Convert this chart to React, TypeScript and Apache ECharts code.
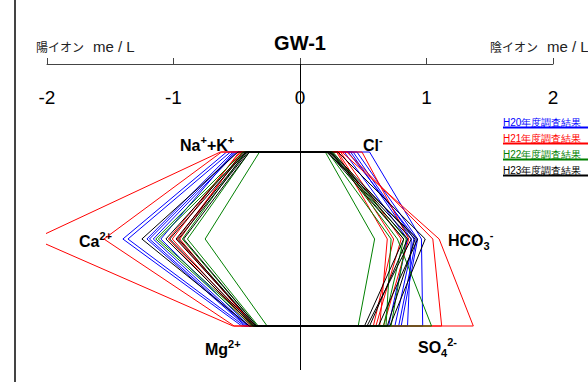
import React, { useEffect, useRef } from "react";
import * as echarts from "echarts";

// Legend / years
const years = ["H20年度調査結果", "H21年度調査結果", "H22年度調査結果", "H23年度調査結果"];
const yearColors = ["#0000ff", "#ff0000", "#008000", "#000000"];

// Axis ticks
const xTicks = [-2, -1, 0, 1, 2];

// Each row: [Na+K, Ca, Mg, Cl, HCO3, SO4]  (me/L)
const h20 = [
  [0.58, 1.4, 0.46, 0.55, 0.96, 0.97],
  [0.55, 1.36, 0.44, 0.45, 0.93, 0.8],
  [0.53, 1.21, 0.43, 0.42, 0.9, 0.75],
  [0.51, 1.19, 0.42, 0.4, 0.88, 0.85],
  [0.5, 1.16, 0.41, 0.38, 0.92, 0.78],
  [0.52, 1.1, 0.4, 0.35, 0.85, 0.7],
];
const h21 = [
  [0.63, 2.1, 0.53, 0.33, 1.1, 1.37],
  [0.62, 1.55, 0.52, 0.37, 1.05, 1.12],
  [0.48, 1.01, 0.38, 0.3, 0.74, 0.58],
  [0.46, 0.95, 0.37, 0.29, 0.69, 0.63],
  [0.47, 1.04, 0.39, 0.49, 0.86, 0.66],
  [0.45, 0.97, 0.36, 0.32, 0.8, 0.6],
];
const h22 = [
  [0.32, 0.75, 0.26, 0.2, 0.59, 0.46],
  [0.45, 1.14, 0.38, 0.25, 0.77, 1.04],
  [0.42, 1.12, 0.36, 0.24, 0.82, 0.66],
  [0.4, 0.89, 0.33, 0.22, 0.72, 0.68],
  [0.43, 0.93, 0.34, 0.26, 0.84, 0.72],
];
const h23 = [
  [0.49, 1.25, 0.4, 0.3, 0.99, 0.71],
  [0.44, 1.06, 0.37, 0.24, 0.88, 0.53],
  [0.42, 0.98, 0.35, 0.23, 0.85, 0.55],
  [0.4, 0.92, 0.34, 0.22, 0.82, 0.51],
  [0.43, 1.03, 0.36, 0.25, 0.91, 0.69],
  [0.41, 0.96, 0.35, 0.21, 0.93, 0.62],
];
const yearData = [h20, h21, h22, h23];

const FONT = "'Liberation Sans', Arial, sans-serif";
const CJK = "'Noto Sans CJK JP', sans-serif";

export default function App() {
  const ref = useRef<HTMLDivElement>(null);
  useEffect(() => {
    if (!ref.current) return;
    const chart = echarts.init(ref.current, null, { renderer: "svg" });
    const series: any[] = [];
    yearData.forEach((rows, yi) => {
      rows.forEach((r, si) => {
        const [na, ca, mg, cl, hco3, so4] = r;
        series.push({
          type: "line",
          name: years[yi],
          data: [
            [-na, 0],
            [cl, 0],
            [hco3, 1],
            [so4, 2],
            [-mg, 2],
            [-ca, 1],
            [-na, 0],
          ],
          showSymbol: false,
          symbol: "none",
          silent: true,
          clip: true,
          lineStyle: { color: yearColors[yi], width: 1 },
          z: 2 + yi,
          markLine:
            yi === 0 && si === 0
              ? {
                  silent: true,
                  symbol: "none",
                  label: { show: false },
                  lineStyle: { color: "#000", width: 1, type: "solid" },
                  data: [{ xAxis: 0 }],
                }
              : undefined,
        });
      });
    });

    const sup = { fontSize: 11, fontWeight: "bold", fontFamily: FONT, color: "#000", verticalAlign: "top", lineHeight: 22 };
    const sub = { fontSize: 11, fontWeight: "bold", fontFamily: FONT, color: "#000", verticalAlign: "bottom", lineHeight: 17 };
    const base = { fontSize: 16, fontWeight: "bold", fontFamily: FONT, color: "#000", lineHeight: 20 };
    const rich = { b: base, s: sup, d: sub };
    const ionLabel = (text: string, x: number, y: number) => ({
      type: "text",
      x,
      y,
      style: { text, rich, textAlign: "left", textVerticalAlign: "middle" },
    });

    const legendGraphics: any[] = [];
    years.forEach((name, i) => {
      const y = 122 + i * 16;
      legendGraphics.push({
        type: "text",
        x: 503,
        y,
        style: { text: name, fill: yearColors[i], fontSize: 10, fontFamily: FONT, textVerticalAlign: "middle" },
      });
      legendGraphics.push({
        type: "line",
        shape: { x1: 503, y1: y + 5.5, x2: 588, y2: y + 5.5 },
        style: { stroke: yearColors[i], lineWidth: 2 },
      });
    });

    chart.setOption({
      animation: false,
      backgroundColor: "#fff",
      grid: { left: 47, right: 35, top: 64, bottom: 12, containLabel: false },
      xAxis: {
        type: "value",
        position: "top",
        min: -2,
        max: 2,
        interval: 1,
        axisLine: { show: true, onZero: false, lineStyle: { color: "#444", width: 1 } },
        axisTick: { show: true, length: 6, lineStyle: { color: "#444" } },
        axisLabel: {
          inside: true,
          margin: 24,
          fontSize: 19,
          color: "#000",
          fontFamily: FONT,
          formatter: (v: number) => (xTicks.includes(v) ? String(v) : ""),
        },
        splitLine: { show: false },
      },
      yAxis: {
        type: "value",
        inverse: true,
        min: -1.0115,
        max: 2.5057,
        show: false,
        splitLine: { show: false },
      },
      series,
      graphic: [
        {
          type: "line",
          shape: { x1: 15, y1: 0, x2: 15, y2: 382 },
          style: { stroke: "#444", lineWidth: 2 },
        },
        {
          type: "text",
          x: 300,
          y: 43,
          style: { text: "GW-1", fontSize: 20, fontWeight: "bold", fontFamily: FONT, fill: "#000", textAlign: "center", textVerticalAlign: "middle" },
        },
        {
          type: "text",
          x: 36,
          y: 46,
          style: { text: "陽イオン", fontSize: 12, fontFamily: CJK, fill: "#222", textVerticalAlign: "middle" },
        },
        {
          type: "text",
          x: 93,
          y: 46,
          style: { text: "me / L", fontSize: 15, fontFamily: FONT, fill: "#222", textVerticalAlign: "middle" },
        },
        {
          type: "text",
          x: 490,
          y: 46,
          style: { text: "陰イオン", fontSize: 12, fontFamily: CJK, fill: "#222", textVerticalAlign: "middle" },
        },
        {
          type: "text",
          x: 547,
          y: 46,
          style: { text: "me / L", fontSize: 15, fontFamily: FONT, fill: "#222", textVerticalAlign: "middle" },
        },
        ionLabel("{b|Na}{s|+}{b|+K}{s|+}", 180, 145),
        ionLabel("{b|Cl}{s|-}", 363, 145),
        ionLabel("{b|Ca}{s|2+}", 79, 241),
        ionLabel("{b|HCO}{d|3}{s|-}", 448, 240),
        ionLabel("{b|Mg}{s|2+}", 205, 349),
        ionLabel("{b|SO}{d|4}{s|2-}", 418, 347),
        ...legendGraphics,
      ],
    });
    return () => chart.dispose();
  }, []);
  return <div ref={ref} style={{ position: "fixed", left: 0, top: 0, width: 588, height: 382 }} />;
}
